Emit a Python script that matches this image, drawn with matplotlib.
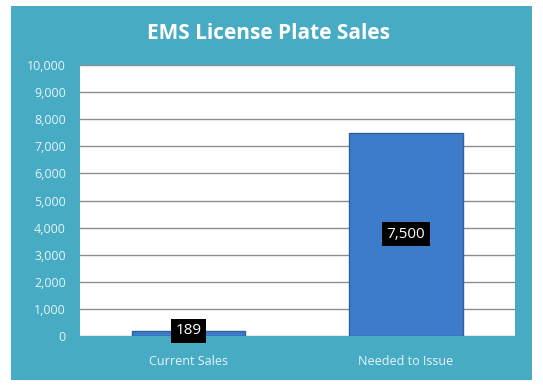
import matplotlib.pyplot as plt
from matplotlib.patches import Rectangle
from matplotlib.ticker import FuncFormatter

# Data
categories = ['Current Sales', 'Needed to Issue']
sales = [189, 7500]
y_ticks = list(range(0, 10001, 1000))

teal = '#48abc4'
label_color = '#e4f5f9'

fig = plt.figure(figsize=(5.43, 3.92), dpi=100)
fig.patch.set_facecolor('white')

# teal chart frame (behind the axes)
fig.patches.append(Rectangle((0.020, 0.031), 0.960, 0.954, transform=fig.transFigure,
                             facecolor=teal, edgecolor='none', zorder=-5))

ax = fig.add_axes([0.147, 0.143, 0.801, 0.691])
ax.set_facecolor('white')

x = range(len(categories))
bars = ax.bar(x, sales, width=0.52, color='#3d7bcb', edgecolor='#2f619f',
              linewidth=1, zorder=3)

# value labels in black boxes
for bar in bars:
    h = bar.get_height()
    ax.text(bar.get_x() + bar.get_width() / 2, h / 2 if h > 1000 else h, f"{h:,.0f}",
            ha='center', va='center', color='white', fontsize=11, family='Open Sans',
            zorder=5, bbox=dict(boxstyle='square,pad=0.3', facecolor='black', edgecolor='none'))

ax.set_xlim(-0.5, 1.5)
ax.set_ylim(0, 10000)
ax.set_yticks(y_ticks)
ax.yaxis.set_major_formatter(FuncFormatter(lambda v, p: f"{v:,.0f}"))
ax.set_xticks(list(x))
ax.set_xticklabels(categories)
ax.yaxis.grid(True, color='#8c8c8c', linewidth=1, zorder=0)
ax.set_axisbelow(True)

for lab in ax.get_yticklabels() + ax.get_xticklabels():
    lab.set_color(label_color)
    lab.set_family('Open Sans')
    lab.set_fontsize(9)
ax.tick_params(axis='both', length=0, pad=10)
ax.tick_params(axis='x', pad=14)

for s in ax.spines.values():
    s.set_visible(False)

fig.text(0.495, 0.915, "EMS License Plate Sales", ha='center', va='center',
         color='white', fontsize=15, fontweight='bold', family='Open Sans')

plt.savefig('out.png', dpi=100, facecolor=fig.get_facecolor())
